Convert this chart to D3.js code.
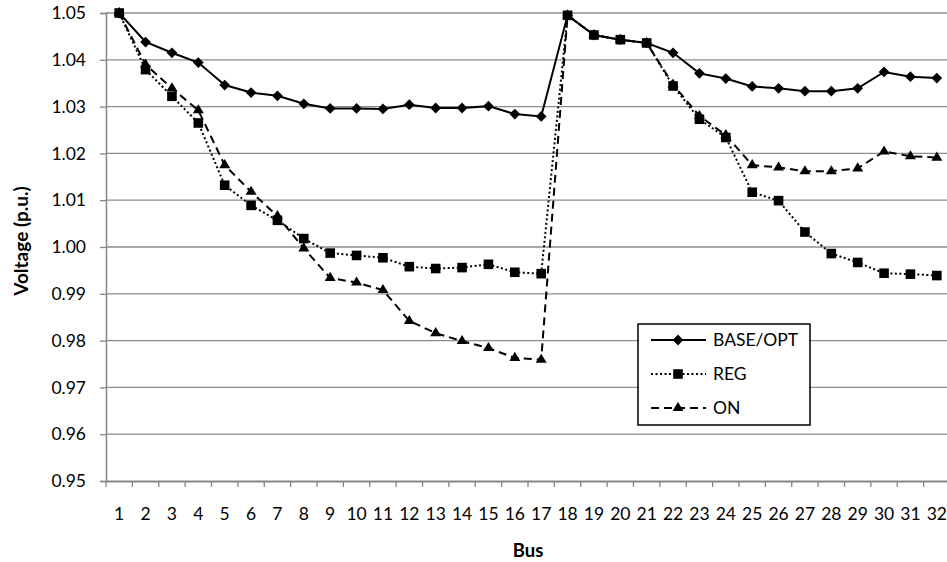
<!DOCTYPE html>
<html>
<head>
<meta charset="utf-8">
<script src="https://cdn.jsdelivr.net/npm/d3@7"></script>
<style>
  html, body { margin: 0; padding: 0; background: #fff; }
  svg { display: block; }
  text { font-family: Lato, "Open Sans", sans-serif; fill: #000; }
</style>
</head>
<body>
<svg id="chart" width="947" height="562"></svg>
<script>
const buses = d3.range(1, 33).map(String);
const yTicks = [0.95, 0.96, 0.97, 0.98, 0.99, 1.00, 1.01, 1.02, 1.03, 1.04, 1.05];
const baseOpt = [1.0500, 1.0438, 1.0415, 1.0394, 1.0346, 1.0330, 1.0323, 1.0306, 1.0296, 1.0296,
                 1.0295, 1.0304, 1.0297, 1.0297, 1.0301, 1.0284, 1.0279, 1.0495, 1.0453, 1.0443,
                 1.0436, 1.0415, 1.0371, 1.0360, 1.0343, 1.0339, 1.0333, 1.0333, 1.0339, 1.0374,
                 1.0364, 1.0361];
const reg = [1.0500, 1.0379, 1.0322, 1.0265, 1.0132, 1.0089, 1.0057, 1.0018, 0.9987, 0.9982,
             0.9977, 0.9958, 0.9954, 0.9956, 0.9963, 0.9946, 0.9943, 1.0495, 1.0453, 1.0443,
             1.0436, 1.0344, 1.0273, 1.0234, 1.0117, 1.0099, 1.0032, 0.9986, 0.9967, 0.9944,
             0.9942, 0.9939];
const on = [1.0500, 1.0390, 1.0339, 1.0292, 1.0175, 1.0118, 1.0066, 0.9997, 0.9934, 0.9924,
            0.9908, 0.9842, 0.9816, 0.9799, 0.9784, 0.9763, 0.9759, 1.0495, 1.0453, 1.0443,
            1.0436, 1.0347, 1.0280, 1.0239, 1.0175, 1.0170, 1.0162, 1.0162, 1.0168, 1.0204,
            1.0194, 1.0191];
const seriesNames = ["BASE/OPT", "REG", "ON"];

// marker shapes (drawn through d3.symbol with custom types)
const diamondType = { draw(ctx, size) { const r = Math.sqrt(size / 2);
  ctx.moveTo(0, -r); ctx.lineTo(r, 0); ctx.lineTo(0, r); ctx.lineTo(-r, 0); ctx.closePath(); } };
const squareType = { draw(ctx, size) { const h = Math.sqrt(size) / 2;
  ctx.rect(-h, -h, 2 * h, 2 * h); } };
const triangleType = { draw(ctx, size) { const w = Math.sqrt(size) * 0.55;
  ctx.moveTo(0, -w * 1.1); ctx.lineTo(w, w * 0.55); ctx.lineTo(-w, w * 0.55); ctx.closePath(); } };

const series = [
  { name: seriesNames[0], values: baseOpt, dash: null, symbol: diamondType, size: 58 },
  { name: seriesNames[1], values: reg, dash: "2,2.5", symbol: squareType, size: 92 },
  { name: seriesNames[2], values: on, dash: "8,5", symbol: triangleType, size: 100 }
];

const svg = d3.select("#chart");
const mLeft = 106, mRight = 950, mTop = 13, mBottom = 481;

const x = d3.scaleBand().domain(buses).range([mLeft, mRight]).padding(0);
const y = d3.scaleLinear().domain([0.95, 1.05]).range([mBottom, mTop]);

// gridlines
svg.append("g")
  .selectAll("line")
  .data(yTicks.filter(t => t > 0.95))
  .join("line")
  .attr("x1", mLeft).attr("x2", mRight)
  .attr("y1", d => y(d)).attr("y2", d => y(d))
  .attr("stroke", "#8c8c8c").attr("stroke-width", 1.3);

// y axis
const yAxis = svg.append("g")
  .attr("transform", `translate(${mLeft},0)`)
  .call(d3.axisLeft(y).tickValues(yTicks).tickFormat(d3.format(".2f")).tickSize(6).tickPadding(14));
yAxis.select(".domain").attr("stroke", "#868686").attr("stroke-width", 1.5);
yAxis.selectAll(".tick line").attr("stroke", "#868686").attr("stroke-width", 1.3);
yAxis.selectAll("text").style("font-size", "17.5px").style("font-family", "Lato, sans-serif").attr("fill", "#000");

// x axis
const xAxis = svg.append("g")
  .attr("transform", `translate(0,${mBottom})`)
  .call(d3.axisBottom(x).tickSize(0).tickPadding(27));
xAxis.select(".domain").attr("stroke", "#868686").attr("stroke-width", 2);
xAxis.selectAll("text").style("font-size", "17.5px").style("font-family", "Lato, sans-serif").attr("fill", "#000");
// tick marks between categories
svg.append("g")
  .selectAll("line")
  .data(buses)
  .join("line")
  .attr("x1", d => x(d)).attr("x2", d => x(d))
  .attr("y1", mBottom).attr("y2", mBottom + 6)
  .attr("stroke", "#868686").attr("stroke-width", 1.3);

// axis titles
svg.append("text")
  .attr("transform", `translate(28,241) rotate(-90)`)
  .attr("text-anchor", "middle")
  .style("font-size", "19px").style("font-weight", "bold")
  .text("Voltage (p.u.)");
svg.append("text")
  .attr("x", (mLeft + mRight) / 2).attr("y", 557)
  .attr("text-anchor", "middle")
  .style("font-size", "18.5px").style("font-weight", "bold")
  .text("Bus");

// lines + markers
const cx = i => x(buses[i]) + x.bandwidth() / 2;
const line = d3.line().x((d, i) => cx(i)).y(d => y(d));

series.forEach(s => {
  svg.append("path")
    .datum(s.values)
    .attr("d", line)
    .attr("fill", "none")
    .attr("stroke", "#000")
    .attr("stroke-width", 2)
    .attr("stroke-dasharray", s.dash);
});
series.forEach(s => {
  svg.append("g")
    .selectAll("path")
    .data(s.values)
    .join("path")
    .attr("d", d3.symbol().type(s.symbol).size(s.size))
    .attr("transform", (d, i) => `translate(${cx(i)},${y(d)})`)
    .attr("fill", "#000");
});

// legend
const lg = svg.append("g");
lg.append("rect")
  .attr("x", 638).attr("y", 324).attr("width", 172).attr("height", 101)
  .attr("fill", "#fff").attr("stroke", "#000").attr("stroke-width", 1.5);
series.forEach((s, i) => {
  const cy = 340 + i * 34;
  lg.append("line")
    .attr("x1", 651).attr("x2", 706).attr("y1", cy).attr("y2", cy)
    .attr("stroke", "#000").attr("stroke-width", 2)
    .attr("stroke-dasharray", s.dash);
  lg.append("path")
    .attr("d", d3.symbol().type(s.symbol).size(s.size))
    .attr("transform", `translate(678,${cy})`)
    .attr("fill", "#000");
  lg.append("text")
    .attr("x", 713).attr("y", cy).attr("dy", "0.36em")
    .style("font-size", "17.5px")
    .text(s.name);
});
</script>
</body>
</html>
